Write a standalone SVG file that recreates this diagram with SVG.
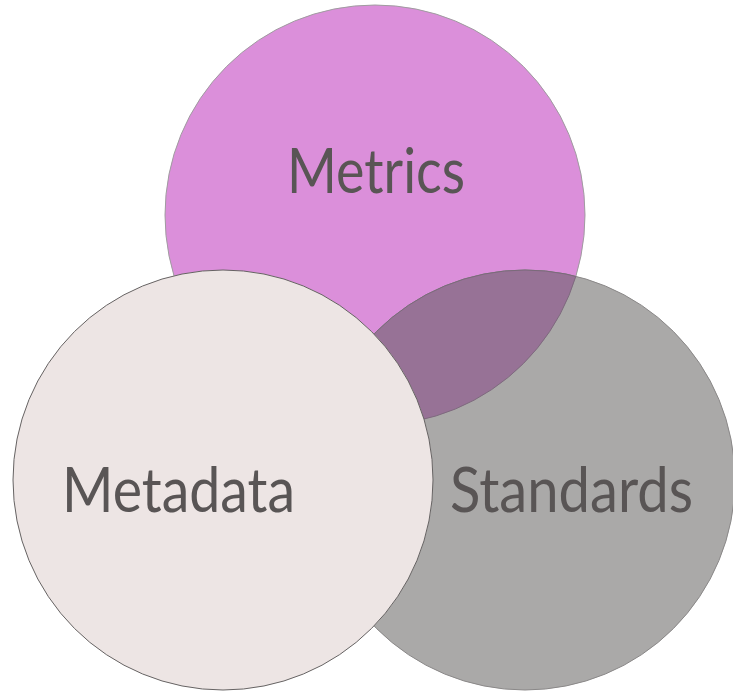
<svg xmlns="http://www.w3.org/2000/svg" width="733" height="692" viewBox="0 0 733 692">
<style>
.lbl{font-family:"Lato","Open Sans","Liberation Sans",sans-serif;font-size:62px;fill:#595555;}
</style>
<defs>
<clipPath id="clipMetrics"><circle cx="375" cy="215" r="210"/></clipPath>
<clipPath id="clipStd"><circle cx="525" cy="480" r="210"/></clipPath>
</defs>
<rect width="733" height="692" fill="#ffffff"/>
<g id="metrics">
<circle cx="375" cy="215" r="210" fill="#DB8FDA" stroke="#a09ca0" stroke-width="1"/>
</g>
<g id="standards">
<circle cx="525" cy="480" r="210" fill="#AAA9A8" stroke="#8a8888" stroke-width="1"/>
<circle cx="525" cy="480" r="210" fill="#977296" stroke="#7a6a7a" stroke-width="1" clip-path="url(#clipMetrics)"/>
<circle cx="375" cy="215" r="210" fill="none" stroke="#7e6a7e" stroke-width="1" clip-path="url(#clipStd)"/>
<text class="lbl" x="450" y="512" textLength="243" lengthAdjust="spacingAndGlyphs">Standards</text>
</g>
<g id="metricsLabel">
<text class="lbl" x="287" y="193" textLength="178" lengthAdjust="spacingAndGlyphs">Metrics</text>
</g>
<g id="metadata">
<circle cx="223" cy="480" r="210" fill="#EDE5E4" stroke="#666363" stroke-width="1"/>
<text class="lbl" x="62" y="512" textLength="233" lengthAdjust="spacingAndGlyphs">Metadata</text>
</g>
<g id="connectors"/>
</svg>
